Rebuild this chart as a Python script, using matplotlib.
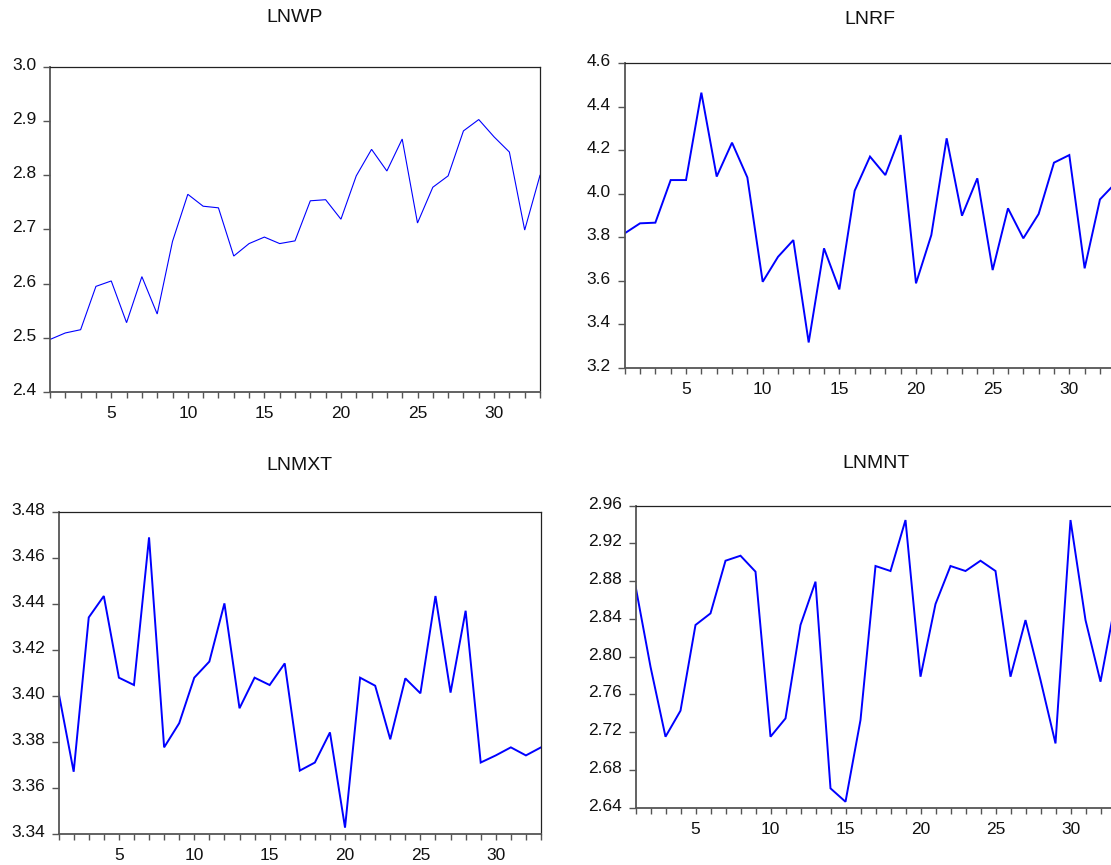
import matplotlib
matplotlib.use("Agg")
import matplotlib.pyplot as plt
import matplotlib.transforms as mtransforms
from matplotlib.ticker import FixedLocator, MultipleLocator

plt.rcParams['font.family'] = ['Liberation Sans', 'DejaVu Sans']

obs = list(range(1, 34))
titles = ["LNWP", "LNRF", "LNMXT", "LNMNT"]

lnwp = [2.497, 2.509, 2.515, 2.595, 2.605, 2.528, 2.613, 2.544, 2.678, 2.765,
        2.743, 2.740, 2.651, 2.674, 2.686, 2.674, 2.679, 2.753, 2.755, 2.719,
        2.799, 2.848, 2.808, 2.867, 2.712, 2.778, 2.799, 2.882, 2.903, 2.871,
        2.843, 2.699, 2.800]
lnrf = [3.818, 3.864, 3.867, 4.063, 4.063, 4.465, 4.079, 4.235, 4.075, 3.595,
        3.710, 3.787, 3.316, 3.749, 3.560, 4.014, 4.171, 4.086, 4.270, 3.588,
        3.810, 4.255, 3.899, 4.071, 3.649, 3.933, 3.795, 3.907, 4.143, 4.178,
        3.657, 3.974, 4.048]
lnmxt = [3.4016, 3.3672, 3.4343, 3.4436, 3.4081, 3.4049, 3.4691, 3.3778, 3.3883, 3.4081,
         3.4151, 3.4404, 3.3948, 3.4081, 3.4049, 3.4143, 3.3677, 3.3712, 3.3843, 3.3429,
         3.4081, 3.4046, 3.3813, 3.4078, 3.4013, 3.4436, 3.4016, 3.4372, 3.3712, 3.3743,
         3.3778, 3.3743, 3.3778]
lnmnt = [2.8749, 2.7894, 2.7152, 2.7428, 2.8336, 2.8459, 2.9017, 2.9070, 2.8901, 2.7152,
         2.7346, 2.8336, 2.8795, 2.6605, 2.6463, 2.7329, 2.8961, 2.8908, 2.9448, 2.7788,
         2.8558, 2.8961, 2.8908, 2.9017, 2.8908, 2.7788, 2.8388, 2.7753, 2.7081, 2.9448,
         2.8388, 2.7735, 2.858]

series = [lnwp, lnrf, lnmxt, lnmnt]
yticks = [
    [2.4, 2.5, 2.6, 2.7, 2.8, 2.9, 3.0],
    [3.2, 3.4, 3.6, 3.8, 4.0, 4.2, 4.4, 4.6],
    [3.34, 3.36, 3.38, 3.40, 3.42, 3.44, 3.46, 3.48],
    [2.64, 2.68, 2.72, 2.76, 2.80, 2.84, 2.88, 2.92, 2.96],
]
yfmt = ["{:.1f}", "{:.1f}", "{:.2f}", "{:.2f}"]
xlabels = [5, 10, 15, 20, 25, 30]

W, H = 1111, 865
# pixel boxes: left, right, top, bottom
boxes = [
    (50, 540, 67, 392),
    (624.7, 1115.3, 63.3, 367.7),
    (58.6, 541, 512.3, 834.3),
    (635.5, 1115.5, 505.7, 807.7),
]
title_y = [18, 20, 466, 463]
lws = [0.8, 1.4, 1.4, 1.4]

fig = plt.figure(figsize=(W / 100, H / 100), dpi=100)
fig.patch.set_facecolor("white")

for i in range(4):
    l, r, t, b = boxes[i]
    ax = fig.add_axes([l / W, 1 - b / H, (r - l) / W, (b - t) / H])
    ax.plot(obs, series[i], color="#0000FF", lw=lws[i], solid_joinstyle="miter")
    ax.set_xlim(1, 33)
    ax.set_ylim(yticks[i][0], yticks[i][-1])
    ax.yaxis.set_major_locator(FixedLocator(yticks[i]))
    ax.set_yticklabels([yfmt[i].format(v) for v in yticks[i]])
    ax.xaxis.set_major_locator(FixedLocator(xlabels))
    ax.xaxis.set_minor_locator(MultipleLocator(1))
    ax.set_xticklabels([str(v) for v in xlabels])
    ax.tick_params(axis="both", which="both", direction="out", color="#555555",
                   width=1.0, labelsize=12.5, labelcolor="#111111")
    ax.tick_params(axis="x", which="both", length=4.5, pad=5.5)
    ax.tick_params(axis="y", which="major", length=5, pad=5.0)
    for lab in ax.get_yticklabels():
        lab.set_transform(lab.get_transform() +
                          mtransforms.ScaledTranslation(0, 3 / 100, fig.dpi_scale_trans))
    for s in ("left", "bottom"):
        ax.spines[s].set_color("#555555")
        ax.spines[s].set_linewidth(1.3)
    for s in ("top", "right"):
        ax.spines[s].set_color("#222222")
        ax.spines[s].set_linewidth(0.9)
    fig.text(((l + r) / 2) / W, 1 - title_y[i] / H, titles[i], ha="center", va="center",
             fontsize=14, color="#111111")

fig.savefig("out.png", dpi=100)
